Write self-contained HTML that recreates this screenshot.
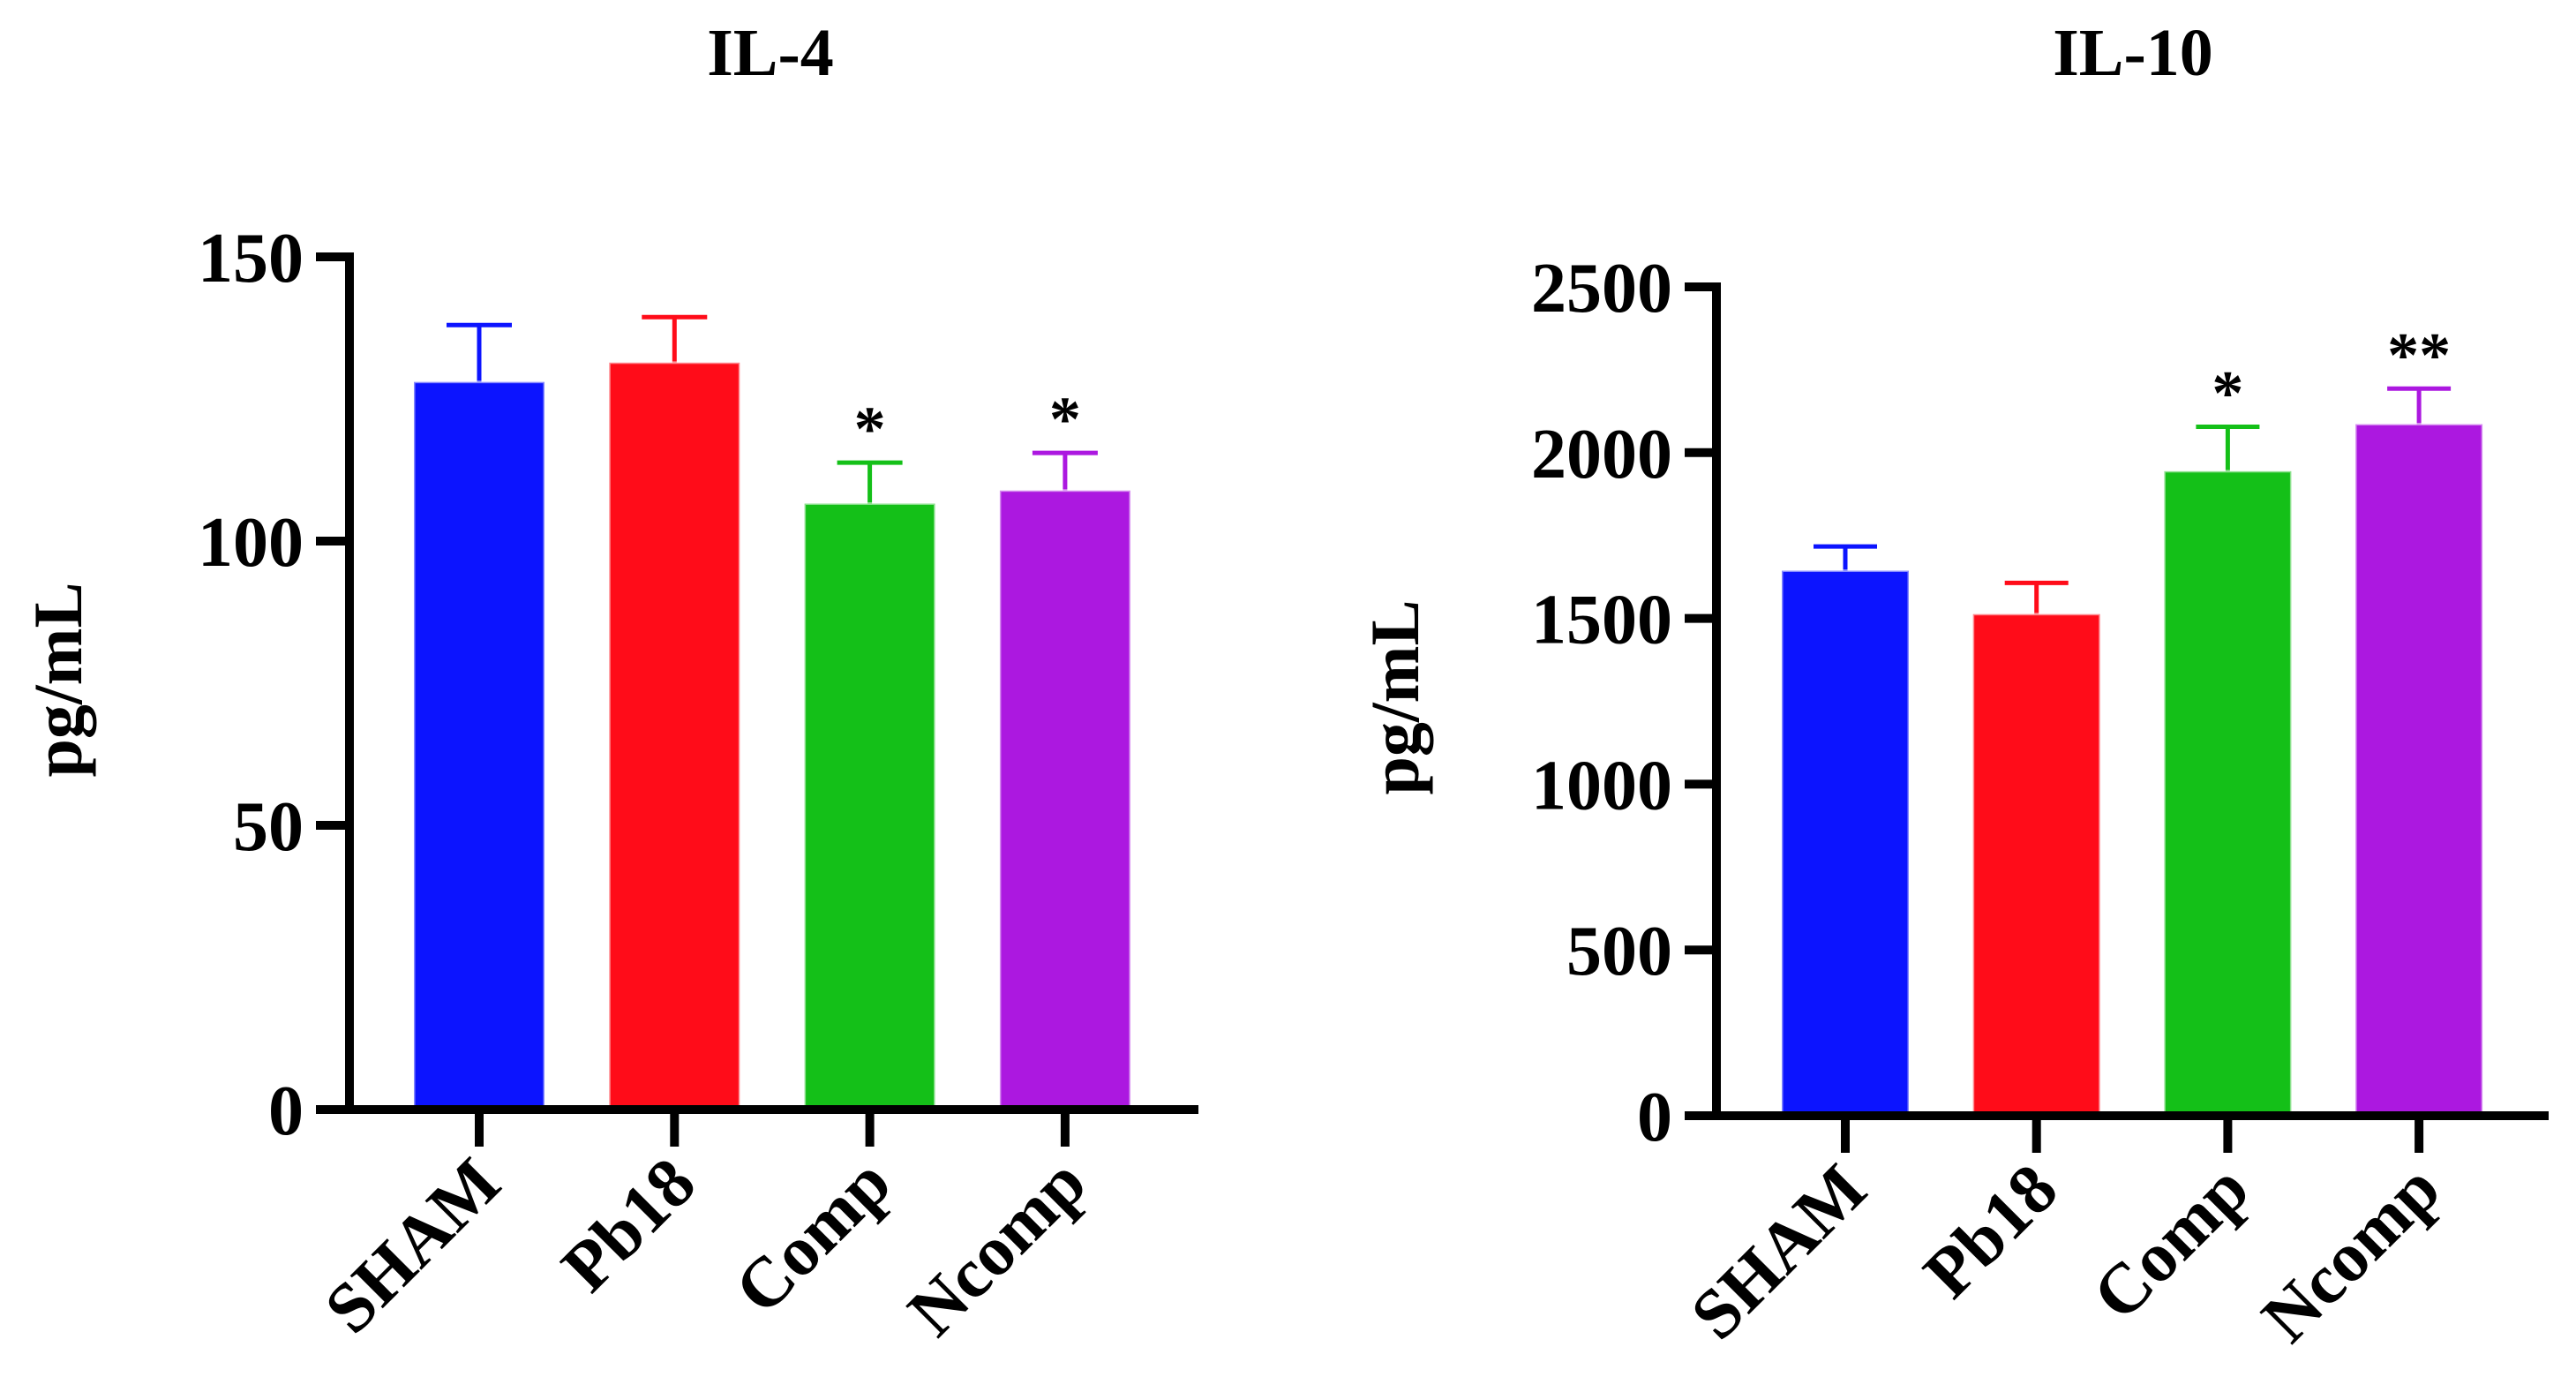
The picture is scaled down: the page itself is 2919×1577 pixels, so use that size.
<!DOCTYPE html>
<html><head><meta charset="utf-8"><style>
html,body{margin:0;padding:0;background:#fff;}
svg{display:block;}
svg text{font-family:"Liberation Serif","Times New Roman",Times,serif;font-weight:bold;}
</style></head><body>
<svg id="svg" width="2919" height="1577" viewBox="0 0 2919 1577" xmlns="http://www.w3.org/2000/svg"></svg>
<script>
const categories = ["SHAM","Pb18","Comp","Ncomp"];
const colors = ["#0c14ff","#ff0c19","#14c018","#ac18e0"];
const il4Values = [128.0,131.4,106.6,108.9];
const il4Errors = [10.0,8.0,7.2,6.6];
const il4Sig = ["","","*","*"];
const il4Ticks = [0,50,100,150];
const il10Values = [1644,1513,1944,2086];
const il10Errors = [73,94,134,107];
const il10Sig = ["","","*","**"];
const il10Ticks = [0,500,1000,1500,2000,2500];

const NS="http://www.w3.org/2000/svg";
const svg=document.getElementById('svg');
const FF='"Liberation Serif", "Times New Roman", serif';
function mk(tag,attrs,parent){const e=document.createElementNS(NS,tag);for(const k in attrs)e.setAttribute(k,attrs[k]);if(tag==='text'){e.setAttribute('font-family',FF);e.setAttribute('font-weight','bold');}(parent||svg).appendChild(e);return e;}

function chart(cfg){
  const g=mk('g',{});
  
  
  const y=v=>cfg.y0-(v/cfg.max)*(cfg.y0-cfg.yTop);
  const t=mk('text',{x:cfg.titleX,y:85,'text-anchor':'middle','font-size':76},g);
  t.textContent=cfg.title;
  
  
  const yl=mk('text',{x:0,y:0,'text-anchor':'middle','font-size':78,transform:`translate(${cfg.ylX},${cfg.ylY}) rotate(-90)`},g);
  yl.textContent='pg/mL';
  
  
  cfg.values.forEach((v,i)=>{
    const cx=cfg.x0Center+i*cfg.step;
    const top=y(v), etop=y(v+cfg.errors[i]);
    const el=mk('line',{x1:cx,x2:cx,y1:top,y2:etop,stroke:colors[i],'stroke-width':5},g);
    
    
    const cap=mk('line',{x1:cx-cfg.bw*0.25,x2:cx+cfg.bw*0.25,y1:etop,y2:etop,stroke:colors[i],'stroke-width':5},g);
    
    
    const r=mk('rect',{x:cx-cfg.bw/2,y:top,width:cfg.bw,height:cfg.y0-top,fill:colors[i],stroke:'rgba(255,255,255,0.5)','stroke-width':3},g);
    
    
    if(cfg.sig[i]){
      const s=mk('text',{x:cx,y:etop-14,'text-anchor':'middle','font-size':72},g);
      s.textContent=cfg.sig[i];
      
      
    }
    const tk=mk('line',{x1:cx,x2:cx,y1:cfg.y0,y2:cfg.y0+42,stroke:'#000','stroke-width':10},g);
    
    
    const lb=mk('text',{x:0,y:0,'text-anchor':'end','font-size':80,transform:`translate(${cx+28},${cfg.y0+88}) rotate(-45)`},g);
    lb.textContent=categories[i];
    
    
  });
  const ya=mk('line',{x1:cfg.ax,x2:cfg.ax,y1:y(cfg.max)-5,y2:cfg.y0+5,stroke:'#000','stroke-width':10},g);
  
  
  const xa=mk('line',{x1:cfg.tickL,x2:cfg.axR,y1:cfg.y0,y2:cfg.y0,stroke:'#000','stroke-width':10},g);
  
  
  cfg.ticks.forEach(tv=>{
    const ty=y(tv);
    const l=mk('line',{x1:cfg.tickL,x2:cfg.ax,y1:ty,y2:ty,stroke:'#000','stroke-width':10},g);
    
    
    const tx=mk('text',{x:cfg.tickL-14,y:ty+28,'text-anchor':'end','font-size':80},g);
    tx.textContent=tv;
    
    
  });
}
chart({name:'il4-chart',title:'IL-4',titleX:873,ylX:92,ylY:770,values:il4Values,errors:il4Errors,sig:il4Sig,ticks:il4Ticks,max:150,
  y0:1257,yTop:291,ax:396,axR:1358,tickL:358,x0Center:543,step:221.3,bw:148});
chart({name:'il10-chart',title:'IL-10',titleX:2417,ylX:1607,ylY:790,values:il10Values,errors:il10Errors,sig:il10Sig,ticks:il10Ticks,max:2500,
  y0:1264,yTop:325,ax:1945,axR:2888,tickL:1909,x0Center:2091,step:216.7,bw:144});
</script>
</body></html>
